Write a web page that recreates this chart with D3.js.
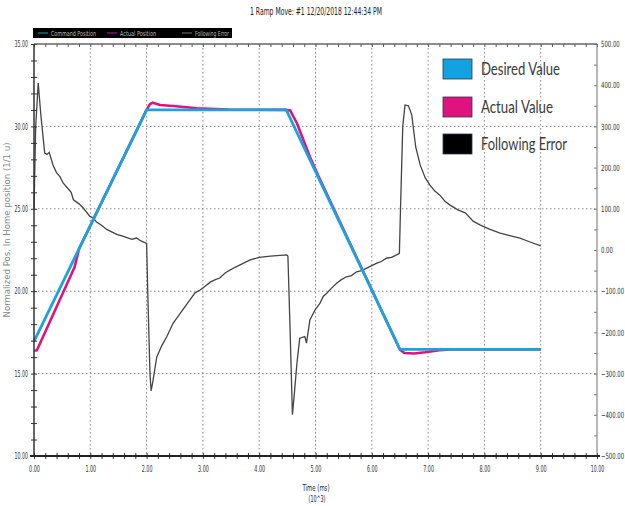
<!DOCTYPE html>
<html>
<head>
<meta charset="utf-8">
<script src="https://cdn.jsdelivr.net/npm/d3@7"></script>
<style>
  body { margin: 0; background: #fff; }
  svg { display: block; }
  .tiny { font-family: "Liberation Sans Narrow", "DejaVu Sans Condensed", "Liberation Sans", sans-serif; fill: #333; }
  .grid { stroke: #8a8a8a; stroke-width: 1; stroke-dasharray: 1.5,2.5; }
  .legend-text { font-family: Lato, "Open Sans", sans-serif; fill: #3a3a3a; }
</style>
</head>
<body>
<svg width="625" height="506"></svg>
<script>
// time in 10^3 ms
var desiredTime = [0, 2.0, 4.48, 6.5, 9.0];
var desiredValue = [16.95, 31.0, 31.0, 16.47, 16.47];

var actualTime = [0, 0.05, 0.72, 0.8, 2.0, 2.06, 2.11, 2.24, 2.47, 2.71, 2.89, 3.45, 4.48, 4.55, 4.67, 4.785, 4.90, 5.05, 6.5, 6.58, 6.75, 6.95, 7.2, 7.4, 9.0];
var actualValue = [16.4, 16.4, 21.45, 22.57, 31.0, 31.35, 31.44, 31.3, 31.24, 31.16, 31.1, 31.02, 31.0, 30.97, 30.19, 29.17, 28.16, 27.0, 16.45, 16.25, 16.22, 16.3, 16.42, 16.47, 16.47];

var errorTime = [0, 0.03, 0.075, 0.12, 0.19, 0.23, 0.27, 0.34, 0.40, 0.46, 0.52, 0.61, 0.66, 0.70, 0.80, 0.875, 0.99, 1.05, 1.11, 1.2, 1.29, 1.38, 1.47, 1.56, 1.65, 1.74, 1.82, 1.90, 1.97, 2.0,
  2.02, 2.06, 2.08, 2.11, 2.18, 2.27, 2.36, 2.47, 2.59, 2.68, 2.77, 2.86, 2.95, 3.04, 3.13, 3.22, 3.30, 3.40, 3.48, 3.57, 3.66, 3.84, 4.0, 4.2, 4.49,
  4.51, 4.55, 4.59, 4.63, 4.67, 4.72, 4.81, 4.84, 4.90, 4.99, 5.08, 5.14, 5.20, 5.29, 5.38, 5.46, 5.55, 5.64, 5.73, 5.82, 5.91, 6.0, 6.09, 6.17, 6.26, 6.35, 6.44, 6.49,
  6.51, 6.55, 6.59, 6.65, 6.71, 6.78, 6.86, 6.95, 7.03, 7.12, 7.21, 7.3, 7.39, 7.52, 7.66, 7.8, 7.92, 8.1, 8.28, 8.45, 8.63, 8.8, 9.0];
var errorValue = [100, 300, 405, 330, 235, 232, 237, 205, 188, 178, 162, 148, 140, 122, 112, 102, 82, 78, 68, 60, 50, 44, 38, 34, 30, 26, 29, 22, 18, 16,
  -100, -300, -342, -320, -260, -232, -210, -178, -155, -138, -121, -104, -97, -88, -78, -72, -68, -55, -49, -42, -36, -24, -18, -15, -12,
  -15, -200, -400, -340, -275, -214, -210, -226, -170, -146, -129, -112, -105, -92, -80, -72, -65, -62, -53, -50, -44, -38, -32, -28, -20, -18, -12, -8,
  100, 300, 352, 350, 328, 250, 206, 175, 158, 143, 133, 118, 109, 98, 90, 70, 61, 50, 41, 35, 29, 20, 10];

var xTicks = [0, 1, 2, 3, 4, 5, 6, 7, 8, 9, 10];
var leftTicks = [10, 15, 20, 25, 30, 35];
var rightTicks = [-500, -400, -300, -200, -100, 0, 100, 200, 300, 400, 500];
var legendLabels = ["Desired Value", "Actual Value", "Following Error"];
var legendColors = ["#12a2e2", "#e0137e", "#000000"];
var headerLabels = ["Command Position", "Actual Position", "Following Error"];
var headerColors = ["#10a8a0", "#c010c0", "#777777"];

var svg = d3.select("svg");
var x = d3.scaleLinear().domain([0, 10]).range([34, 597]);
var yL = d3.scaleLinear().domain([10, 35]).range([456, 44]);
var yR = d3.scaleLinear().domain([-500, 500]).range([456, 44]);
var fmt = d3.format(".2f");

function squeeze(sel, perChar) {
    sel.attr("textLength", function() { return this.textContent.length * perChar; })
       .attr("lengthAdjust", "spacingAndGlyphs");
}

// title
svg.append("text").attr("class", "tiny")
    .attr("x", 250).attr("y", 15)
    .style("font-size", "10px").style("fill", "#222")
    .attr("textLength", 132).attr("lengthAdjust", "spacingAndGlyphs")
    .text("1 Ramp Move: #1 12/20/2018 12:44:34 PM");

// header legend strip
svg.append("rect").attr("x", 33).attr("y", 28).attr("width", 199).attr("height", 10).attr("fill", "#000");
var hx = [38, 107, 182];
var hw = [45, 36, 34];
headerLabels.forEach(function(d, i) {
    svg.append("line").attr("x1", hx[i]).attr("x2", hx[i] + 10).attr("y1", 33).attr("y2", 33)
        .attr("stroke", headerColors[i]).attr("stroke-width", 1);
    svg.append("text").attr("class", "tiny").attr("x", hx[i] + 13).attr("y", 35.5)
        .style("font-size", "7px").style("fill", "#bbb")
        .attr("textLength", hw[i]).attr("lengthAdjust", "spacingAndGlyphs")
        .text(d);
});

// grid
svg.append("g").selectAll("line").data(xTicks.slice(1, -1)).enter().append("line")
    .attr("class", "grid")
    .attr("x1", d => x(d)).attr("x2", d => x(d))
    .attr("y1", 44).attr("y2", 456);
svg.append("g").selectAll("line").data(leftTicks.slice(1, -1)).enter().append("line")
    .attr("class", "grid")
    .attr("x1", 34).attr("x2", 597)
    .attr("y1", d => yL(d)).attr("y2", d => yL(d));

// series
var errLine = d3.line().x(d => x(d[0])).y(d => yR(d[1]));
var posLine = d3.line().x(d => x(d[0])).y(d => yL(d[1]));

svg.append("path")
    .datum(d3.zip(errorTime, errorValue))
    .attr("d", errLine)
    .attr("fill", "none").attr("stroke", "#444").attr("stroke-width", 1.3);

svg.append("path")
    .datum(d3.zip(actualTime, actualValue))
    .attr("d", posLine)
    .attr("fill", "none").attr("stroke", "#e0137e").attr("stroke-width", 2.6)
    .attr("stroke-linejoin", "round");

svg.append("path")
    .datum(d3.zip(desiredTime, desiredValue))
    .attr("d", posLine)
    .attr("fill", "none").attr("stroke", "#19a3e0").attr("stroke-width", 2.8);

// axes: minor ticks
var leftMinor = svg.append("g").attr("transform", "translate(34,0)")
    .call(d3.axisLeft(yL).tickValues(d3.range(10, 36, 1)).tickSize(3).tickFormat(""));
leftMinor.selectAll(".tick line").attr("x2", -3).attr("x1", 3).attr("stroke", "#333");

var bottomMinor = svg.append("g").attr("transform", "translate(0,456)")
    .call(d3.axisBottom(x).tickValues(d3.range(0, 10.01, 0.2)).tickSize(3).tickFormat(""));
bottomMinor.selectAll(".tick line").attr("y1", -3).attr("y2", 3).attr("stroke", "#333");

var topMinor = svg.append("g").attr("transform", "translate(0,44)")
    .call(d3.axisBottom(x).tickValues(d3.range(0, 10.01, 0.2)).tickSize(3).tickFormat(""));
topMinor.selectAll(".tick line").attr("stroke", "#555");

var rightMinor = svg.append("g").attr("transform", "translate(597,0)")
    .call(d3.axisLeft(yR).tickValues(d3.range(-500, 501, 50)).tickSize(3).tickFormat(""));
rightMinor.selectAll(".tick line").attr("stroke", "#777");

[leftMinor, bottomMinor, topMinor, rightMinor].forEach(function(g) {
    g.select(".domain").remove();
});

// frame
svg.append("line").attr("x1", 34).attr("x2", 597).attr("y1", 44).attr("y2", 44).attr("stroke", "#666").attr("stroke-width", 1.5);
svg.append("line").attr("x1", 597).attr("x2", 597).attr("y1", 44).attr("y2", 456).attr("stroke", "#888").attr("stroke-width", 1.2);
svg.append("line").attr("x1", 34).attr("x2", 34).attr("y1", 44).attr("y2", 456).attr("stroke", "#333").attr("stroke-width", 1.5);
svg.append("line").attr("x1", 30).attr("x2", 600).attr("y1", 456).attr("y2", 456).attr("stroke", "#222").attr("stroke-width", 2);

// tick labels
var leftLab = svg.append("g").attr("transform", "translate(34,0)")
    .call(d3.axisLeft(yL).tickValues(leftTicks).tickSize(0).tickPadding(6).tickFormat(fmt));
var rightLab = svg.append("g").attr("transform", "translate(597,0)")
    .call(d3.axisRight(yR).tickValues(rightTicks).tickSize(0).tickPadding(4).tickFormat(fmt));
var bottomLab = svg.append("g").attr("transform", "translate(0,456)")
    .call(d3.axisBottom(x).tickValues(xTicks).tickSize(0).tickPadding(10).tickFormat(fmt));
[leftLab, rightLab, bottomLab].forEach(function(g) {
    g.select(".domain").remove();
    g.selectAll("text").attr("class", "tiny").style("font-size", "8.5px").attr("font-family", null);
});
leftLab.selectAll("text").call(squeeze, 2.7);
bottomLab.selectAll("text").call(squeeze, 2.7);
// right labels squeezed with a horizontal scale so they stay inside the page
rightLab.selectAll("text")
    .attr("x", 4 / 0.7)
    .attr("transform", "scale(0.7,1)");

// axis titles
svg.append("text").attr("class", "tiny")
    .attr("x", 316).attr("y", 491).attr("text-anchor", "middle")
    .style("font-size", "9px").style("fill", "#222")
    .attr("textLength", 27).attr("lengthAdjust", "spacingAndGlyphs")
    .text("Time (ms)");
svg.append("text").attr("class", "tiny")
    .attr("x", 317).attr("y", 502).attr("text-anchor", "middle")
    .style("font-size", "9px").style("fill", "#222")
    .attr("textLength", 17).attr("lengthAdjust", "spacingAndGlyphs")
    .text("(10^3)");
svg.append("text").attr("class", "tiny")
    .attr("transform", "translate(10,230) rotate(-90)")
    .attr("text-anchor", "middle")
    .style("font-size", "8px").style("fill", "#888")
    .attr("textLength", 175).attr("lengthAdjust", "spacingAndGlyphs")
    .text("Normalized Pos. In Home position (1/1 u)");

// legend
var legendY = [59, 97, 134];
var legendW = [79, 72, 86];
var legend = svg.append("g");
legendLabels.forEach(function(d, i) {
    legend.append("rect")
        .attr("x", 443).attr("y", legendY[i])
        .attr("width", 29).attr("height", 20)
        .attr("fill", legendColors[i])
        .attr("stroke", "#2a3a4a").attr("stroke-width", 0.8);
    legend.append("text").attr("class", "legend-text")
        .attr("x", 481).attr("y", legendY[i] + 16)
        .style("font-size", "18px")
        .attr("textLength", legendW[i]).attr("lengthAdjust", "spacingAndGlyphs")
        .text(d);
});
</script>
</body>
</html>
